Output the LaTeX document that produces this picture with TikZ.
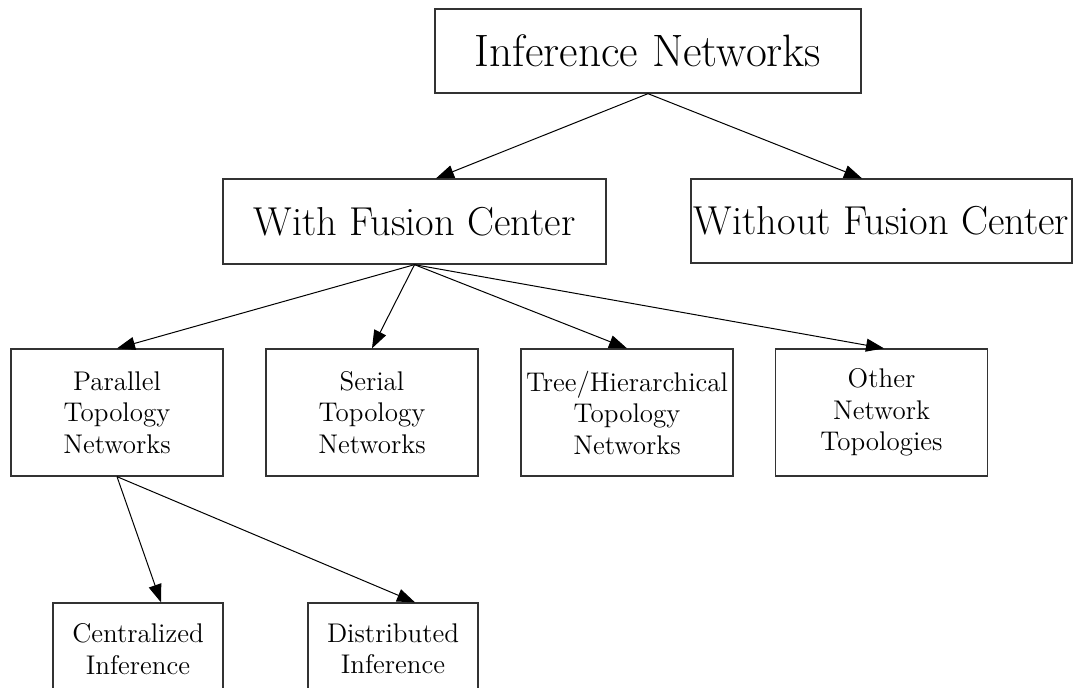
\documentclass[tikz,border=0pt]{standalone}
\usetikzlibrary{arrows.meta,calc}
\begin{document}
\begin{tikzpicture}[x=0.5pt,y=-0.5pt,
  box/.style={draw=black!80, line width=0.65pt, inner sep=0pt, align=center},
  arr/.style={-{Triangle[length=9pt,width=6.5pt]}, line width=0.5pt},
  big/.style={font=\fontsize{22.7}{27}\selectfont},
  mid/.style={font=\fontsize{20.2}{24}\selectfont},
  small/.style={font=\fontsize{13.5}{15.75}\selectfont}]
\useasboundingbox (0,0) rectangle (1076,687);
\clip (0,0) rectangle (1076,687);
% nodes
\node[box,big,minimum width=213pt,minimum height=42pt] (inf) at (648,51) {Inference Networks};
\node[box,mid,minimum width=191.5pt,minimum height=42.5pt] (wfc) at (414.5,221.5) {With Fusion Center};
\node[box,mid,minimum width=190.5pt,minimum height=42pt] (wofc) at (881.5,221) {Without Fusion Center};
\node[box,small,minimum width=106pt,minimum height=63.5pt] (par) at (117,412.5) {Parallel\\Topology\\Networks};
\node[box,small,minimum width=106pt,minimum height=63.5pt] (ser) at (372,412.5) {Serial\\Topology\\Networks};
\node[box,small,minimum width=106pt,minimum height=63.5pt] (tree) at (627,412.5) {Tree/Hierarchical\\Topology\\Networks};
\node[box,small,minimum width=106pt,minimum height=63.5pt] (oth) at (881.5,412.5) {Other\\Network\\Topologies};
\node[box,small,minimum width=85pt,minimum height=46pt] (cen) at (138,649) {Centralized\\Inference};
\node[box,small,minimum width=85pt,minimum height=46pt] (dis) at (393,649) {Distributed\\Inference};
% connectors
\draw[arr] (inf.south) -- ($(wfc.north)+(21.5,0)$);
\draw[arr] (inf.south) -- ($(wofc.north)+(-19.5,0)$);
\draw[arr] (wfc.south) -- (par.north);
\draw[arr] (wfc.south) -- (ser.north);
\draw[arr] (wfc.south) -- (tree.north);
\draw[arr] (wfc.south) -- ($(oth.north)+(2.5,0)$);
\draw[arr] (par.south) -- ($(cen.north)+(23,0)$);
\draw[arr] (par.south) -- ($(dis.north)+(22,0)$);
\end{tikzpicture}
\end{document}
